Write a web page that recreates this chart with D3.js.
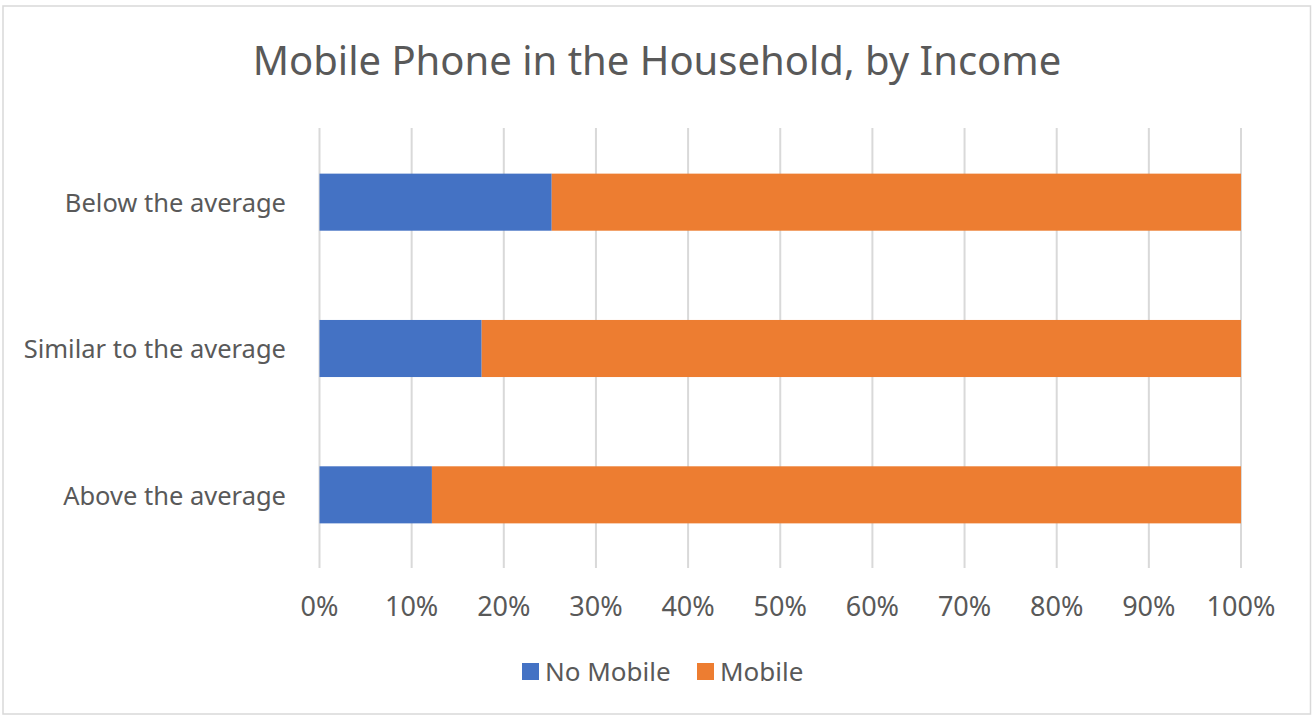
<!DOCTYPE html>
<html>
<head>
<meta charset="utf-8">
<script src="https://cdn.jsdelivr.net/npm/d3@7"></script>
<style>
  body { margin: 0; background: #fff; }
  text { font-family: "Noto Sans", "Open Sans", sans-serif; fill: #595959; }
</style>
</head>
<body>
<div id="chart"></div>
<script>
// Data
var categories = ["Below the average", "Similar to the average", "Above the average"];
var seriesNames = ["No Mobile", "Mobile"];
var noMobile = [0.252, 0.176, 0.122];
var mobile = [0.748, 0.824, 0.878];
var tickValues = [0, 0.1, 0.2, 0.3, 0.4, 0.5, 0.6, 0.7, 0.8, 0.9, 1];
var colors = ["#4472C4", "#ED7D31"];

var width = 1312, height = 717;
var margin = { left: 319.5, right: 71, top: 129, bottom: 149 };

var svg = d3.select("#chart").append("svg")
    .attr("width", width)
    .attr("height", height);

// chart border
svg.append("rect")
    .attr("x", 3).attr("y", 6)
    .attr("width", width - 4.5).attr("height", height - 9)
    .attr("fill", "#fff")
    .attr("stroke", "#d9d9d9")
    .attr("stroke-width", 1.5);

// title
svg.append("text")
    .attr("x", 657).attr("y", 75)
    .attr("text-anchor", "middle")
    .style("font-size", "40px")
    .text("Mobile Phone in the Household, by Income");

var x = d3.scaleLinear()
    .domain([0, 1])
    .range([margin.left, width - margin.right]);

var y = d3.scaleBand()
    .domain(categories)
    .range([margin.top, height - margin.bottom])
    .paddingInner(0.61)
    .paddingOuter(0.305);

// gridlines
svg.append("g")
    .selectAll("line")
    .data(tickValues)
    .enter().append("line")
    .attr("x1", function(d) { return x(d); })
    .attr("x2", function(d) { return x(d); })
    .attr("y1", margin.top - 1)
    .attr("y2", height - margin.bottom)
    .attr("stroke", "#d9d9d9")
    .attr("stroke-width", 2);

// stacked bars
var rows = categories.map(function(c, i) {
    return { category: c, "No Mobile": noMobile[i], "Mobile": mobile[i] };
});
var stacked = d3.stack().keys(seriesNames)(rows);

svg.append("g")
    .selectAll("g")
    .data(stacked)
    .enter().append("g")
    .attr("fill", function(d, i) { return colors[i]; })
    .selectAll("rect")
    .data(function(d) { return d; })
    .enter().append("rect")
    .attr("x", function(d) { return x(d[0]); })
    .attr("width", function(d) { return x(d[1]) - x(d[0]); })
    .attr("y", function(d) { return y(d.data.category); })
    .attr("height", y.bandwidth());

// category labels
svg.append("g")
    .selectAll("text")
    .data(categories)
    .enter().append("text")
    .attr("x", 286)
    .attr("y", function(d) { return y(d) + y.bandwidth() / 2 + 1; })
    .attr("dy", "0.35em")
    .attr("text-anchor", "end")
    .style("font-size", "25.5px")
    .text(function(d) { return d; });

// x tick labels
svg.append("g")
    .selectAll("text")
    .data(tickValues)
    .enter().append("text")
    .attr("x", function(d) { return x(d); })
    .attr("y", 607)
    .attr("dy", "0.35em")
    .attr("text-anchor", "middle")
    .style("font-size", "27px")
    .text(function(d) { return d3.format(".0%")(d); });

// legend
var legendX = [522, 697];
var legend = svg.append("g")
    .selectAll("g")
    .data(seriesNames)
    .enter().append("g")
    .attr("transform", function(d, i) { return "translate(" + legendX[i] + ",663)"; });

legend.append("rect")
    .attr("width", 17).attr("height", 17)
    .attr("fill", function(d, i) { return colors[i]; });

legend.append("text")
    .attr("x", 23).attr("y", 9)
    .attr("dy", "0.35em")
    .style("font-size", "26px")
    .text(function(d) { return d; });
</script>
</body>
</html>
